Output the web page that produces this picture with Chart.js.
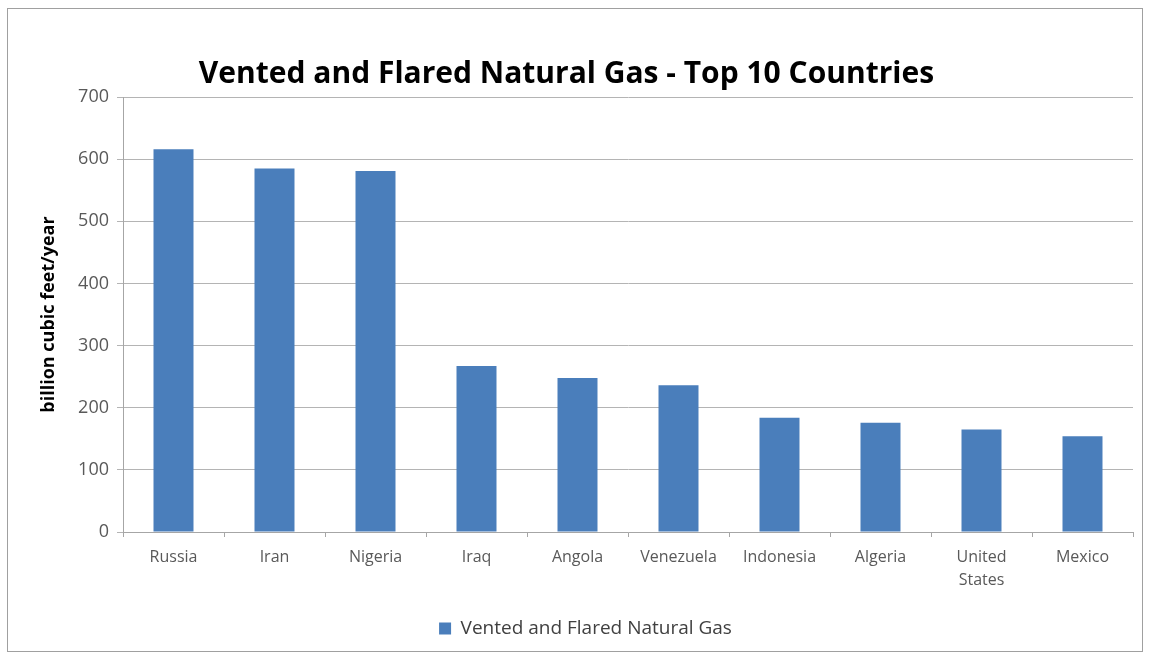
<!DOCTYPE html>
<html>
<head>
<meta charset="utf-8">
<script src="https://cdn.jsdelivr.net/npm/chart.js@4/dist/chart.umd.min.js"></script>
<style>
  html, body { margin: 0; padding: 0; background: #fff; }
  #wrap { position: relative; width: 1153px; height: 660px; }
  #frame { position: absolute; left: 7px; top: 8px; width: 1136px; height: 644px; border: 1px solid #a0a0a0; box-sizing: border-box; pointer-events: none; }
</style>
</head>
<body>
<div id="wrap">
  <canvas id="c" width="1153" height="660"></canvas>
  <div id="frame"></div>
</div>
<script>
const categories = ["Russia", "Iran", "Nigeria", "Iraq", "Angola", "Venezuela", "Indonesia", "Algeria", ["United", "States"], "Mexico"];
const seriesName = "Vented and Flared Natural Gas";
const values = [616, 585, 581, 267, 248, 236, 184, 176, 165, 154];
const yTicks = [0, 100, 200, 300, 400, 500, 600, 700];
const chartTitle = "Vented and Flared Natural Gas - Top 10 Countries";
const yTitle = "billion cubic feet/year";

const font = "'Open Sans', 'Liberation Sans', sans-serif";

const shiftTitle = {
  id: 'shiftTitle',
  afterLayout(chart) {
    if (chart.titleBlock) { chart.titleBlock.left = 0; chart.titleBlock.right = 1133; }
  }
};

new Chart(document.getElementById('c'), {
  type: 'bar',
  data: {
    labels: categories,
    datasets: [{
      label: seriesName,
      data: values,
      backgroundColor: '#4a7ebb',
      borderWidth: 0,
      barPercentage: 0.8,
      categoryPercentage: 0.495
    }]
  },
  plugins: [shiftTitle],
  options: {
    responsive: false,
    animation: false,
    layout: { padding: { left: 38, right: 20, top: 56, bottom: 12 } },
    plugins: {
      title: {
        display: true,
        text: chartTitle,
        color: '#000',
        font: { family: font, size: 30, weight: 'bold' },
        padding: { top: 0, bottom: 5 }
      },
      legend: {
        position: 'bottom',
        labels: {
          color: '#404040',
          font: { family: font, size: 19 },
          boxWidth: 12,
          boxHeight: 12,
          padding: 10
        }
      },
      tooltip: { enabled: false }
    },
    scales: {
      x: {
        grid: { display: true, drawOnChartArea: false, color: '#a6a6a6', tickLength: 5, offset: true },
        border: { color: '#a6a6a6' },
        ticks: { color: '#595959', font: { family: font, size: 16, lineHeight: 1.45 }, maxRotation: 0, autoSkip: false, padding: 9 },
        afterFit: (s) => { s.height = 77; }
      },
      y: {
        min: 0, max: 700,
        afterBuildTicks: (s) => { s.ticks = yTicks.map(v => ({ value: v })); },
        grid: { color: '#b4b4b4', tickLength: 6 },
        border: { color: '#a6a6a6' },
        ticks: { color: '#595959', font: { family: font, size: 18 }, padding: 8 },
        title: {
          display: true,
          text: yTitle,
          color: '#000',
          font: { family: font, size: 18, weight: 'bold' },
          padding: { top: 0, bottom: 8 }
        },
        afterFit: (s) => { s.width = 85; }
      }
    }
  }
});
</script>
</body>
</html>
